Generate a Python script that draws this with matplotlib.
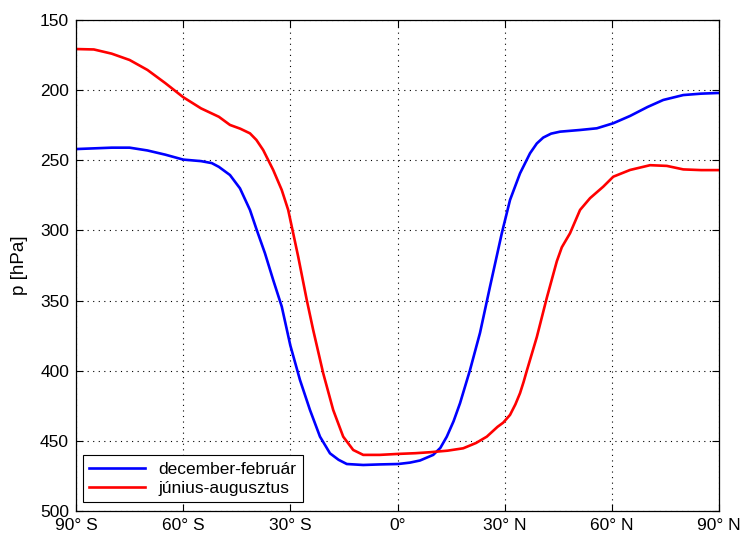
import matplotlib.pyplot as plt

# szélességi körök (fok) és a nyomásértékek (hPa)
lat_djf = [-90, -85, -80, -75, -70, -65, -60, -55, -52, -50, -46.9, -44.1, -41.3, -39.4,
           -37.1, -34.8, -32.4, -30, -27.3, -24.5, -21.7, -18.9, -16.5, -14.2, -9.6, -5,
           0.2, 3.5, 6.3, 10, 12, 13.8, 15.7, 17.5, 20.3, 23.1, 25.9, 29.2, 31.5, 34.3,
           37.1, 39, 40.8, 43, 45.5, 51.1, 55.8, 60.4, 65.1, 70, 74.4, 80, 85, 90]
p_djf = [242, 241.5, 241, 241, 243, 246, 249.5, 250.6, 252, 254.7, 260.5, 270, 285.4,
         299.7, 316.3, 335.3, 354.3, 382, 406.6, 428, 447, 458.9, 463.5, 466.5, 467.2,
         466.8, 466.5, 465.5, 464, 460, 455, 447, 436, 423.2, 399.5, 373, 340, 302,
         278.3, 259.3, 245, 238, 233.8, 231, 229.6, 228.4, 227.2, 223.6, 218.4, 212,
         207, 203.5, 202.5, 202]

lat_jja = [-90, -85, -80, -75, -70, -65, -60, -55, -50, -46.9, -44, -41.3, -39.5, -37.6,
           -34.8, -32.4, -30.6, -29.2, -27.8, -25.4, -23.6, -20.8, -18, -15.2, -12.4,
           -9.6, -5, 0.2, 5, 9.1, 14, 18.4, 22, 25, 28, 29.6, 31.5, 33, 34.3, 35.3, 36.2,
           39, 41.8, 44.6, 46, 48.3, 51.1, 53.9, 57.6, 60.4, 65.1, 70.7, 75.4, 80, 85, 90]
p_jja = [170.7, 171, 174, 178.5, 185.6, 195, 205, 213, 219, 224.8, 227.5, 230.8, 235.5,
         242.7, 256.9, 271.2, 285.4, 302, 318.7, 349.6, 371, 401.8, 428, 447, 456.5,
         460, 460, 459.3, 458.8, 458.1, 457, 455.3, 451.5, 447, 440, 437, 431.5, 424,
         416, 408, 400, 376, 348, 322, 312, 302, 285.4, 277, 268.8, 261.7, 256.9, 253.5,
         254, 256.5, 257, 257]

xticks = [-90, -60, -30, 0, 30, 60, 90]
xticklabels = ['90° S', '60° S', '30° S', '0°', '30° N', '60° N', '90° N']
yticks = [150, 200, 250, 300, 350, 400, 450, 500]

plt.rcParams['font.family'] = ['Liberation Sans', 'DejaVu Sans']
plt.rcParams['font.size'] = 12.5

fig = plt.figure(figsize=(7.42, 5.34), dpi=100)
ax = fig.add_axes([76 / 742, 23 / 534, 643 / 742, 491 / 534])

ax.plot(lat_djf, p_djf, color='#0000ff', lw=1.9, label='december-február')
ax.plot(lat_jja, p_jja, color='#ff0000', lw=1.9, label='június-augusztus')

ax.set_xlim(-90, 90)
ax.set_ylim(500, 150)
ax.set_xticks(xticks)
ax.set_xticklabels(xticklabels)
ax.set_yticks(yticks)
ax.set_ylabel('p [hPa]', fontsize=13.5)
ax.yaxis.set_label_coords(-0.075, 0.5)

ax.grid(True, color='black', linestyle=(0, (1, 4)), linewidth=0.8)
ax.tick_params(direction='in', top=True, right=True, length=5, width=0.8, pad=5)
for s in ax.spines.values():
    s.set_linewidth(0.9)

leg = ax.legend(loc='lower left', bbox_to_anchor=(0.011, 0.018), borderaxespad=0,
                handlelength=3.2, fancybox=False, framealpha=1, edgecolor='black',
                borderpad=0.35, labelspacing=0.25)
leg.get_frame().set_linewidth(0.8)

fig.savefig('out.png', dpi=100)
